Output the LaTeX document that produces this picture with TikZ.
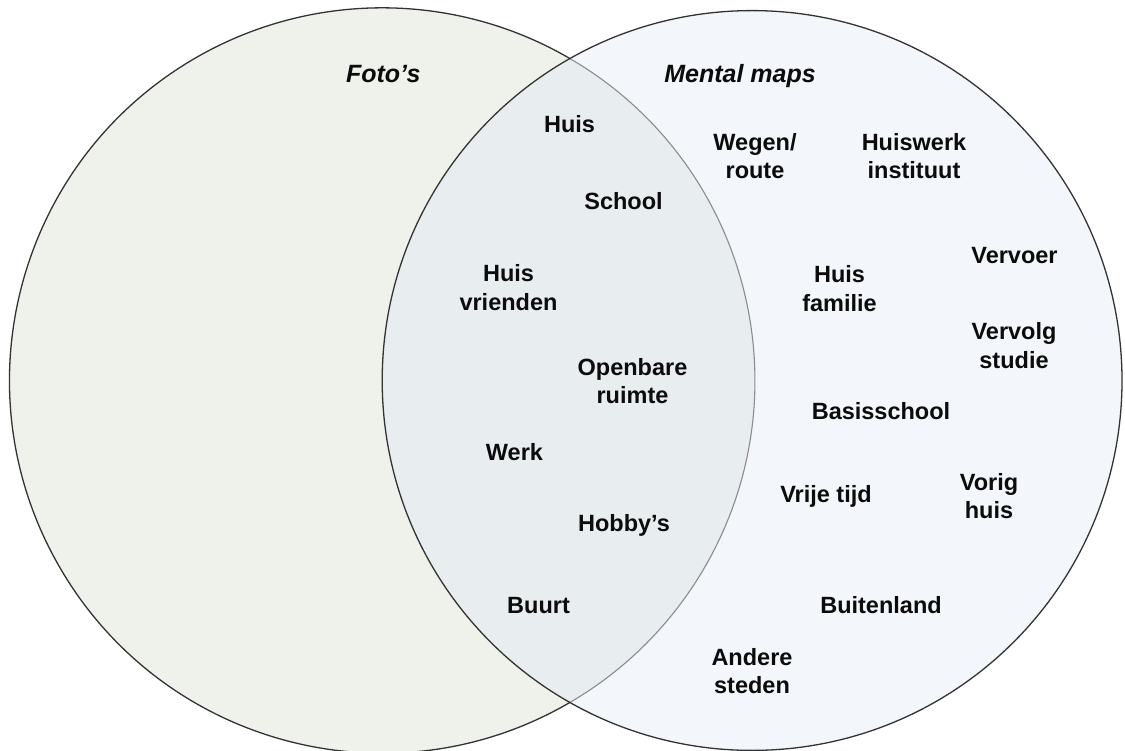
\documentclass[tikz,border=0pt]{standalone}
\usepackage{fontspec}
\setmainfont{Liberation Sans}
\definecolor{fotofill}{RGB}{239,241,235}
\definecolor{mapfill}{RGB}{243,246,250}
\definecolor{bothfill}{RGB}{232,237,239}
\definecolor{inkcol}{RGB}{12,12,12}
% two centred lines, baseline on the first one
\newcommand{\duo}[2]{\begin{tabular}[t]{@{}c@{}}#1\\#2\end{tabular}}
\begin{document}
\begin{tikzpicture}[x=1pt,y=-1pt,
  ring/.style={draw=black!80,line width=1.3pt},
  innerring/.style={draw=black!45,line width=1.1pt},
  lbl/.style={inner sep=0pt,anchor=base,text=inkcol,
    font=\fontsize{23.5}{28.3}\selectfont\bfseries},
  ttl/.style={inner sep=0pt,anchor=base,text=inkcol,
    font=\fontsize{25}{28.3}\selectfont\bfseries\itshape}]
\useasboundingbox (0,0) rectangle (1125,751);
\fill[white] (0,0) rectangle (1125,751);
\def\radL{372.7}
\def\radR{369.9}
\coordinate (cL) at (382.2,380.5);
\coordinate (cR) at (752.1,380.5);
% set fills
\fill[fotofill] (cL) circle[radius=\radL];
\fill[mapfill] (cR) circle[radius=\radR];
\begin{scope}
  \clip (cL) circle[radius=\radL];
  \fill[bothfill] (cR) circle[radius=\radR];
\end{scope}
% outlines
\draw[ring] (cL) ++(59.7:\radL) arc[start angle=59.7,end angle=300.3,radius=\radL];
\draw[innerring] (cL) ++(-59.7:\radL) arc[start angle=-59.7,end angle=59.7,radius=\radL];
\draw[ring] (cR) circle[radius=\radR];
% set titles
\node[ttl] (tfoto) at (383.3,83) {Foto’s};
\node[ttl] (tmaps) at (740,83) {Mental maps};
% intersection
\node[lbl] (huis) at (569.5,133) {Huis};
\node[lbl] (school) at (623.5,210) {School};
\node[lbl] (huisvr) at (508.5,282) {\duo{Huis}{vrienden}};
\node[lbl] (openbaar) at (632.5,375) {\duo{Openbare}{ruimte}};
\node[lbl] (werk) at (514.5,460) {Werk};
\node[lbl] (hobby) at (624,531.5) {Hobby’s};
\node[lbl] (buurt) at (538.5,613) {Buurt};
% mental maps only
\node[lbl] (wegen) at (755,150.5) {\duo{Wegen/}{route}};
\node[lbl] (huiswerk) at (914,150.5) {\duo{Huiswerk}{instituut}};
\node[lbl] (huisfam) at (839.5,283) {\duo{Huis}{familie}};
\node[lbl] (vervoer) at (1014.5,264) {Vervoer};
\node[lbl] (vervolg) at (1014,340) {\duo{Vervolg}{studie}};
\node[lbl] (basis) at (881,420) {Basisschool};
\node[lbl] (vrij) at (826,502.5) {Vrije tijd};
\node[lbl] (vorig) at (989,490) {\duo{Vorig}{huis}};
\node[lbl] (buiten) at (881,613) {Buitenland};
\node[lbl] (andere) at (752,665) {\duo{Andere}{steden}};
\end{tikzpicture}
\end{document}
